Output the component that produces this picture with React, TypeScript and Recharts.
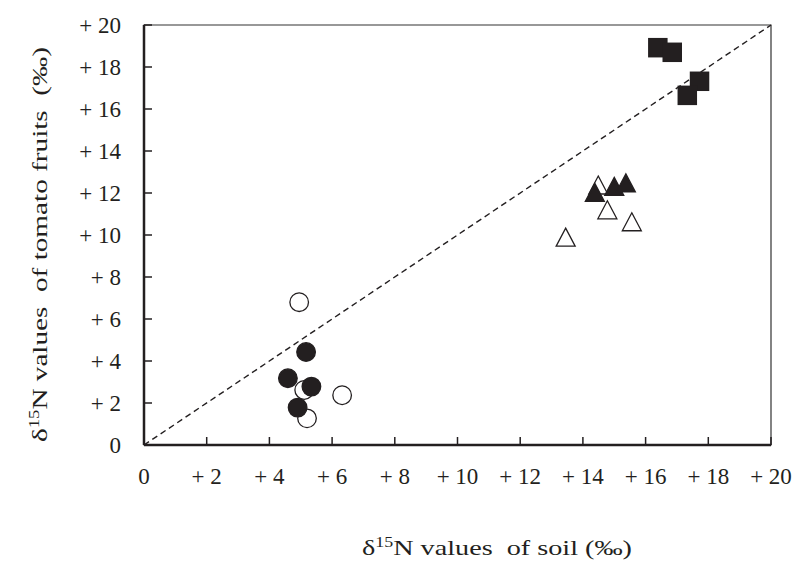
import React from 'react';
import {
  ScatterChart,
  Scatter,
  XAxis,
  YAxis,
  ReferenceLine,
  ReferenceArea,
  Label,
} from 'recharts';

// soil δ15N (x) vs tomato fruit δ15N (y), ‰
const openCircles = [
  { x: 4.95, y: 6.8 },
  { x: 5.11, y: 2.62 },
  { x: 6.32, y: 2.37 },
  { x: 5.2, y: 1.27 },
];
const filledCircles = [
  { x: 5.17, y: 4.43 },
  { x: 4.59, y: 3.18 },
  { x: 5.34, y: 2.78 },
  { x: 4.9, y: 1.78 },
];
const openTriangles = [
  { x: 14.49, y: 12.38 },
  { x: 14.78, y: 11.2 },
  { x: 15.56, y: 10.63 },
  { x: 13.45, y: 9.9 },
];
const filledTriangles = [
  { x: 14.38, y: 12.03 },
  { x: 15.0, y: 12.32 },
  { x: 15.37, y: 12.48 },
];
const filledSquares = [
  { x: 16.39, y: 18.92 },
  { x: 16.85, y: 18.7 },
  { x: 17.72, y: 17.32 },
  { x: 17.33, y: 16.65 },
];
const ticks = [0, 2, 4, 6, 8, 10, 12, 14, 16, 18, 20];

const INK = '#231f20';
const FONT = "'Liberation Serif', 'Times New Roman', Times, serif";
const PLOT_LEFT = 144;
const PLOT_BOTTOM = 445;
const TICK_LEN = 8;

const fmt = (v: number) => (v === 0 ? '0' : `+ ${v}`);

const XTick = (p: any) => {
  const x = p.x;
  return (
    <g>
      <line x1={x} x2={x} y1={PLOT_BOTTOM} y2={PLOT_BOTTOM - TICK_LEN} stroke={INK} strokeWidth={1.5} />
      <text x={x} y={PLOT_BOTTOM + 39} textAnchor="middle" style={{ fontFamily: FONT, fontSize: 23 }} fill={INK}>
        {fmt(p.payload.value)}
      </text>
    </g>
  );
};

const YTick = (p: any) => {
  const y = p.y;
  return (
    <g>
      <line x1={PLOT_LEFT} x2={PLOT_LEFT + TICK_LEN} y1={y} y2={y} stroke={INK} strokeWidth={1.5} />
      <text x={121} y={y + 8} textAnchor="end" style={{ fontFamily: FONT, fontSize: 23 }} fill={INK}>
        {fmt(p.payload.value)}
      </text>
    </g>
  );
};

const circleShape = (filled: boolean) => (p: any) => (
  <circle
    cx={p.cx}
    cy={p.cy}
    r={9.3}
    fill={filled ? INK : '#fff'}
    stroke={INK}
    strokeWidth={1.3}
  />
);

const triangleShape = (filled: boolean) => (p: any) => {
  const w = 19;
  const h = 18;
  const { cx, cy } = p;
  return (
    <polygon
      points={`${cx},${cy - h / 2} ${cx + w / 2},${cy + h / 2} ${cx - w / 2},${cy + h / 2}`}
      fill={filled ? INK : '#fff'}
      stroke={INK}
      strokeWidth={1.3}
    />
  );
};

const squareShape = (p: any) => {
  const s = 19.5;
  return <rect x={p.cx - s / 2} y={p.cy - s / 2} width={s} height={s} fill={INK} />;
};

const YTitle = () => (
  <text
    x={47}
    y={244.5}
    transform="rotate(-90 47 244.5)"
    textAnchor="middle"
    textLength={395}
    lengthAdjust="spacingAndGlyphs"
    style={{ fontFamily: FONT, fontSize: 22, whiteSpace: 'pre' }}
    fill={INK}
  >
    δ<tspan fontSize={14} dy={-8}>15</tspan>
    <tspan dy={8}>N values  of tomato fruits  (‰)</tspan>
  </text>
);

const XTitle = () => (
  <text
    x={497}
    y={555}
    textAnchor="middle"
    textLength={270}
    lengthAdjust="spacingAndGlyphs"
    style={{ fontFamily: FONT, fontSize: 22, whiteSpace: 'pre' }}
    fill={INK}
  >
    δ<tspan fontSize={14} dy={-8}>15</tspan>
    <tspan dy={8}>N values  of soil (‰)</tspan>
  </text>
);

export default function App() {
  return (
    <div style={{ position: 'absolute', left: 0, top: 0, background: '#fff' }}>
      <ScatterChart width={795} height={561} margin={{ top: 25, right: 24, bottom: 0, left: 0 }}>
        <XAxis
          type="number"
          dataKey="x"
          domain={[0, 20]}
          ticks={ticks}
          interval={0}
          height={116}
          axisLine={{ stroke: INK, strokeWidth: 2.5 }}
          tickLine={false}
          tick={<XTick />}
        >
          <Label content={<XTitle />} />
        </XAxis>
        <YAxis
          type="number"
          dataKey="y"
          domain={[0, 20]}
          ticks={ticks}
          interval={0}
          width={144}
          axisLine={{ stroke: INK, strokeWidth: 2.5 }}
          tickLine={false}
          tick={<YTick />}
        >
          <Label content={<YTitle />} />
        </YAxis>
        <ReferenceArea x1={0} x2={20} y1={0} y2={20} fill="none" fillOpacity={0} stroke="#333" strokeWidth={1.2} />
        <ReferenceLine
          segment={[{ x: 0, y: 0 }, { x: 20, y: 20 }]}
          stroke={INK}
          strokeWidth={1.4}
          strokeDasharray="6 4"
        />
        <Scatter data={openCircles} shape={circleShape(false)} isAnimationActive={false} />
        <Scatter data={filledCircles} shape={circleShape(true)} isAnimationActive={false} />
        <Scatter data={openTriangles} shape={triangleShape(false)} isAnimationActive={false} />
        <Scatter data={filledTriangles} shape={triangleShape(true)} isAnimationActive={false} />
        <Scatter data={filledSquares} shape={squareShape} isAnimationActive={false} />
      </ScatterChart>
    </div>
  );
}
